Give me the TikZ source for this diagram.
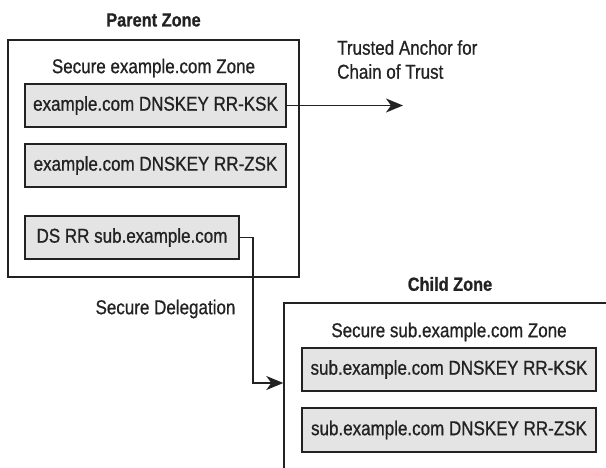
\documentclass[tikz,border=0pt]{standalone}
\usepackage{fontspec}
\setmainfont{Liberation Sans}[FakeStretch=0.85, FakeBold=0.8, BoldFeatures={FakeStretch=0.86}]
\usetikzlibrary{arrows.meta}
\definecolor{ink}{HTML}{222222}
\definecolor{boxfill}{HTML}{E4E4E4}
\tikzset{
  zone/.style={draw=ink, line width=1.4pt, fill=white, inner sep=0pt},
  rrbox/.style={draw=ink, line width=1.4pt, fill=boxfill, inner sep=0pt, text=ink,
    font=\fontsize{20}{24}\selectfont},
  lbl/.style={text=ink, inner sep=0pt, font=\fontsize{20}{24}\selectfont},
  ttl/.style={text=ink, inner sep=0pt, font=\fontsize{19}{23}\selectfont\bfseries},
  conn/.style={draw=ink, line width=1.6pt, -{Stealth[length=17pt,width=14pt,inset=5pt]}}
}
\begin{document}
\begin{tikzpicture}[x=1pt,y=-1pt]
\useasboundingbox (0,0) rectangle (606,468);
\begin{scope}
\clip (0,0) rectangle (606,468);
% parent zone
\node[ttl] (ptitle) at (153.5,20) {Parent Zone};
\node[zone, minimum width=291pt, minimum height=237pt] (parent) at (153.5,158.5) {};
\node[lbl] (psec) at (153.5,68) {Secure example.com Zone};
\node[rrbox, minimum width=261pt, minimum height=43pt] (pksk) at (155.5,105.5) {example.com DNSKEY RR-KSK};
\node[rrbox, minimum width=261pt, minimum height=43pt] (pzsk) at (155.5,165.5) {example.com DNSKEY RR-ZSK};
\node[rrbox, minimum width=214pt, minimum height=43pt] (ds) at (132,237.5) {DS RR sub.example.com};
% trusted anchor
\node[lbl, align=left, anchor=north west] (anchor) at (337,40) {Trusted Anchor for\\Chain of Trust};
\coordinate (tip) at (403,105.5);
\draw[conn] (pksk.east) -- (tip);
% child zone
\node[ttl] (ctitle) at (450,284) {Child Zone};
\node[zone, minimum width=340pt, minimum height=180pt] (child) at (454,393) {};
\node[lbl] (csec) at (449,332) {Secure sub.example.com Zone};
\node[rrbox, minimum width=294pt, minimum height=43pt] (cksk) at (449,369.5) {sub.example.com DNSKEY RR-KSK};
\node[rrbox, minimum width=294pt, minimum height=44pt] (czsk) at (449,430) {sub.example.com DNSKEY RR-ZSK};
% delegation
\node[lbl] (deleg) at (165.5,309) {Secure Delegation};
\coordinate (turn) at (253,383);
\draw[conn] (ds.east) -| (turn) -- (turn -| child.west);
\end{scope}
\end{tikzpicture}
\end{document}
